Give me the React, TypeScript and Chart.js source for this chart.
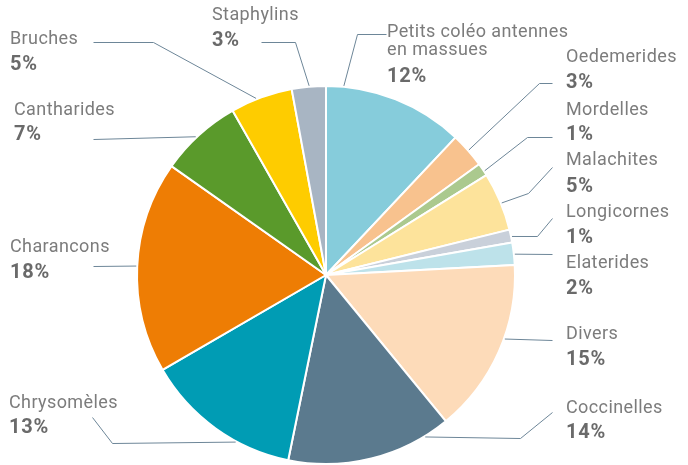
import React, { useEffect, useRef } from "react";
import { Chart, registerables } from "chart.js";

Chart.register(...registerables);

const categories: string[][] = [
  ["Petits coléo antennes", "en massues"],
  ["Oedemerides"],
  ["Mordelles"],
  ["Malachites"],
  ["Longicornes"],
  ["Elaterides"],
  ["Divers"],
  ["Coccinelles"],
  ["Chrysomèles"],
  ["Charancons"],
  ["Cantharides"],
  ["Bruches"],
  ["Staphylins"],
];
const values: number[] = [12, 3, 1.1, 5, 1.1, 1.9, 14.9, 14.1, 13.4, 18.1, 7, 5.3, 2.9];
const pctLabels: string[] = ["12%", "3%", "1%", "5%", "1%", "2%", "15%", "14%", "13%", "18%", "7%", "5%", "3%"];
const colors: string[] = [
  "#86ccdb", "#f8c28e", "#abc98e", "#fde39b", "#c9d0da", "#bde2ea", "#fddbb9",
  "#5b7a8e", "#009cb4", "#ee7d04", "#5a9a2b", "#fecc00", "#a8b5c3",
];

// label layout: text x, first name baseline y, percent baseline y,
// elbow points (text side), and pie-side anchor angle (deg clockwise from top)
type LabelLayout = { tx: number; ny: number; py: number; pts: [number, number][]; ang: number };
const labelLayout: LabelLayout[] = [
  { tx: 387, ny: 37, py: 82, pts: [[386, 34], [357, 34]], ang: 5.4 },
  { tx: 566, ny: 62, py: 88, pts: [[552, 83], [539, 83]], ang: 48.8 },
  { tx: 566, ny: 115, py: 140, pts: [[552, 137], [527, 137]], ang: 56.7 },
  { tx: 566, ny: 165, py: 192, pts: [[552, 167], [528, 193]], ang: 67.7 },
  { tx: 566, ny: 217, py: 243, pts: [[552, 218], [537, 236]], ang: 78.3 },
  { tx: 566, ny: 268, py: 294, pts: [[552, 254]], ang: 83.7 },
  { tx: 566, ny: 339, py: 365, pts: [[552, 340]], ang: 109.7 },
  { tx: 566, ny: 413, py: 438, pts: [[552, 412], [520, 438]], ang: 148.5 },
  { tx: 9, ny: 408, py: 433, pts: [[92, 417], [112, 443]], ang: 208.4 },
  { tx: 10, ny: 252, py: 278, pts: [[93, 266]], ang: 272.7 },
  { tx: 14, ny: 115, py: 140, pts: [[93, 139]], ang: 316.7 },
  { tx: 10, ny: 44, py: 70, pts: [[93, 42], [153, 42]], ang: 338.4 },
  { tx: 212, ny: 20, py: 46, pts: [[261, 42], [295, 42]], ang: 354.9 },
];

const labelPlugin = {
  id: "customLabels",
  afterDraw(chart: any) {
    const ctx = chart.ctx;
    const meta = chart.getDatasetMeta(0);
    const arc = meta.data[0];
    if (!arc) return;
    const { x: cx, y: cy, outerRadius } = arc.getProps(["x", "y", "outerRadius"], true);
    ctx.save();
    labelLayout.forEach((L, i) => {
      const a = (L.ang * Math.PI) / 180;
      const r = outerRadius * 1.005;
      const ex = cx + r * Math.sin(a);
      const ey = cy - r * Math.cos(a);
      ctx.beginPath();
      ctx.strokeStyle = "#6d8698";
      ctx.lineWidth = 1;
      L.pts.forEach((p, k) => {
        if (k === 0) ctx.moveTo(p[0] + 0.5, p[1] + 0.5);
        else ctx.lineTo(p[0] + 0.5, p[1] + 0.5);
      });
      ctx.lineTo(ex, ey);
      ctx.stroke();
      ctx.textAlign = "left";
      ctx.textBaseline = "alphabetic";
      ctx.fillStyle = "#7c7c7c";
      ctx.font = "18px Roboto";
      (ctx as any).letterSpacing = "0.4px";
      categories[i].forEach((line, k) => {
        ctx.fillText(line, L.tx, L.ny + k * 18);
      });
      ctx.fillStyle = "#6a6a6a";
      ctx.font = "bold 20px Roboto";
      (ctx as any).letterSpacing = "0.8px";
      ctx.fillText(pctLabels[i], L.tx, L.py);
      (ctx as any).letterSpacing = "0px";
    });
    ctx.restore();
  },
};

export default function App() {
  const ref = useRef<HTMLCanvasElement | null>(null);
  useEffect(() => {
    if (!ref.current) return;
    const chart = new Chart(ref.current, {
      type: "pie",
      data: {
        labels: categories.map((c) => c.join(" ")),
        datasets: [
          {
            data: values,
            backgroundColor: colors,
            borderColor: "#ffffff",
            borderWidth: 2,
          },
        ],
      },
      options: {
        responsive: false,
        animation: false,
        layout: { padding: { left: 136, right: 172, top: 85, bottom: 0 } },
        plugins: { legend: { display: false }, tooltip: { enabled: false } },
      },
      plugins: [labelPlugin],
    });
    return () => chart.destroy();
  }, []);
  return (
    <div style={{ position: "absolute", left: 0, top: 0, width: 688, height: 465, background: "#fff" }}>
      <canvas ref={ref} width={688} height={465} />
    </div>
  );
}
